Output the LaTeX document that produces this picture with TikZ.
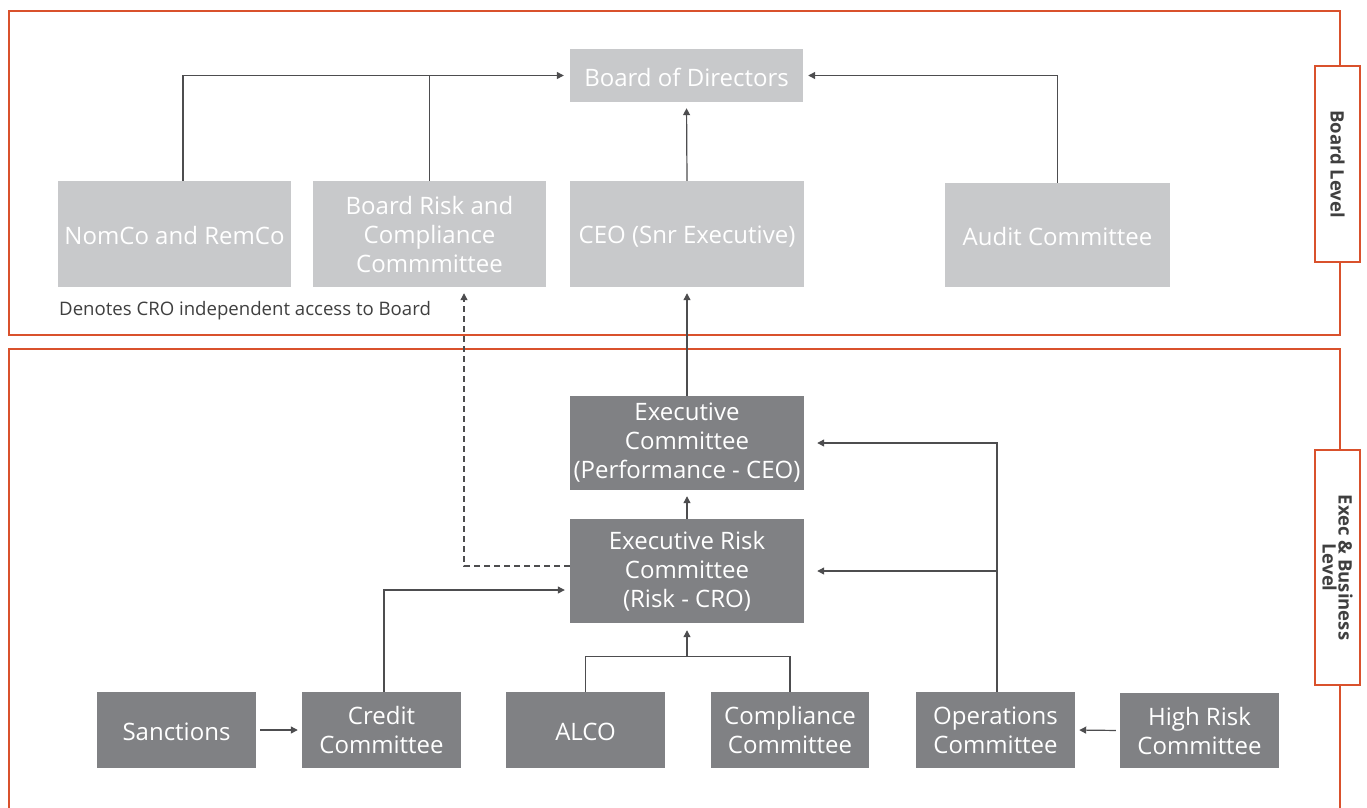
\documentclass[tikz,border=0pt]{standalone}
\usepackage{fontspec}
\setmainfont{Open Sans}
\usetikzlibrary{arrows.meta,calc}
\definecolor{frame}{HTML}{D9512C}
\definecolor{lgray}{HTML}{C8C9CB}
\definecolor{dgray}{HTML}{808184}
\definecolor{lineg}{HTML}{4D4D4F}
\definecolor{txt}{HTML}{3F3F3F}
\begin{document}
\begin{tikzpicture}[x=1pt,y=-1pt,
  box/.style={inner sep=0pt, align=center, text=white, font=\fontsize{24}{29}\selectfont, execute at begin node={\rule{0pt}{22pt}}},
  light/.style={box, fill=lgray},
  dark/.style={box, fill=dgray},
  conn/.style={draw=lineg, line width=1.2pt},
  arr/.style={conn, -{Triangle[length=7pt,width=7pt]}, shorten >=6pt},
  frm/.style={draw=frame, line width=2pt},
  side/.style={frm, fill=white, rotate=-90, minimum height=45pt, inner sep=0pt, align=center, text=txt, font=\fontsize{18.5}{16}\selectfont\bfseries}]
\useasboundingbox (0,0) rectangle (1367,807);
% frames
\draw[frm] (9,11) rectangle (1340,335);
\draw[frm] (9,812) -- (9,349) -- (1340,349) -- (1340,812);
\node[side, minimum width=196pt] (lblboard) at (1337.5,164) {Board Level};
\node[side, minimum width=235pt] (lblexec) at (1337.5,567.5) {Exec \& Business\\Level};
% board level nodes
\node[light, minimum width=233pt, minimum height=53pt] (board) at (686.5,75.5) {Board of Directors};
\node[light, minimum width=233pt, minimum height=106pt] (nomco) at (174.5,234) {NomCo and RemCo};
\node[light, minimum width=233pt, minimum height=106pt] (brc) at (429.5,234) {Board Risk and\\Compliance\\Commmittee};
\node[light, minimum width=234pt, minimum height=106pt] (ceo) at (687,234) {CEO (Snr Executive)};
\node[light, minimum width=225pt, minimum height=104pt] (audit) at (1057.5,235) {Audit Committee};
\node[anchor=west, inner sep=0pt, text=txt, font=\fontsize{18.6}{22}\selectfont] (note) at (59,311) {Denotes CRO independent access to Board};
% exec level nodes
\node[dark, minimum width=234pt, minimum height=94pt] (execcom) at (687,443) {Executive\\Committee\\(Performance - CEO)};
\node[dark, minimum width=234pt, minimum height=104pt] (erc) at (687,571) {Executive Risk\\Committee\\(Risk - CRO)};
\node[dark, minimum width=159pt, minimum height=76pt] (sanc) at (176.5,730) {Sanctions};
\node[dark, minimum width=159pt, minimum height=76pt] (credit) at (381.5,730) {Credit\\Committee};
\node[dark, minimum width=159pt, minimum height=76pt] (alco) at (585.5,730) {ALCO};
\node[dark, minimum width=158pt, minimum height=76pt] (compl) at (790,730) {Compliance\\Committee};
\node[dark, minimum width=159pt, minimum height=76pt] (ops) at (995.5,730) {Operations\\Committee};
\node[dark, minimum width=159pt, minimum height=75pt] (high) at (1199.5,730.5) {High Risk\\Committee};
% connectors board level
\draw[arr] ([xshift=8.5pt]nomco.north) |- (board.west);
\draw[conn] (brc.north) -- (brc.north |- board.west);
\draw[arr, shorten >=5pt] (audit.north) |- (board.east);
\draw[arr] (ceo.north) -- (board.south);
\draw[arr] (execcom.north) -- (ceo.south);
\draw[arr] (erc.north) -- (execcom.south);
% dashed independent access
\draw[arr, dash pattern=on 6pt off 4pt] ([yshift=5pt]erc.west) -| ([xshift=34.5pt]brc.south);
% lower connectors
\draw[arr, shorten >=5pt] ([xshift=2.5pt]credit.north) |- ([yshift=-19pt]erc.west);
\draw[conn] (alco.north) -- ++(0,-35) -| (compl.north);
\coordinate (aj) at (687,657);
\draw[arr, shorten >=7pt] (aj) -- (erc.south);
\coordinate (opstop) at ([xshift=1.5pt]ops.north);
\draw[arr, shorten >=13pt] (opstop) |- (execcom.east);
\draw[arr, shorten >=13pt] (opstop |- erc.east) -- (erc.east);
\draw[arr, shorten <=4pt, shorten >=4pt] (sanc.east) -- (credit.west);
\draw[arr, shorten <=4pt, shorten >=4pt] (high.west) -- (ops.east);
\end{tikzpicture}
\end{document}
